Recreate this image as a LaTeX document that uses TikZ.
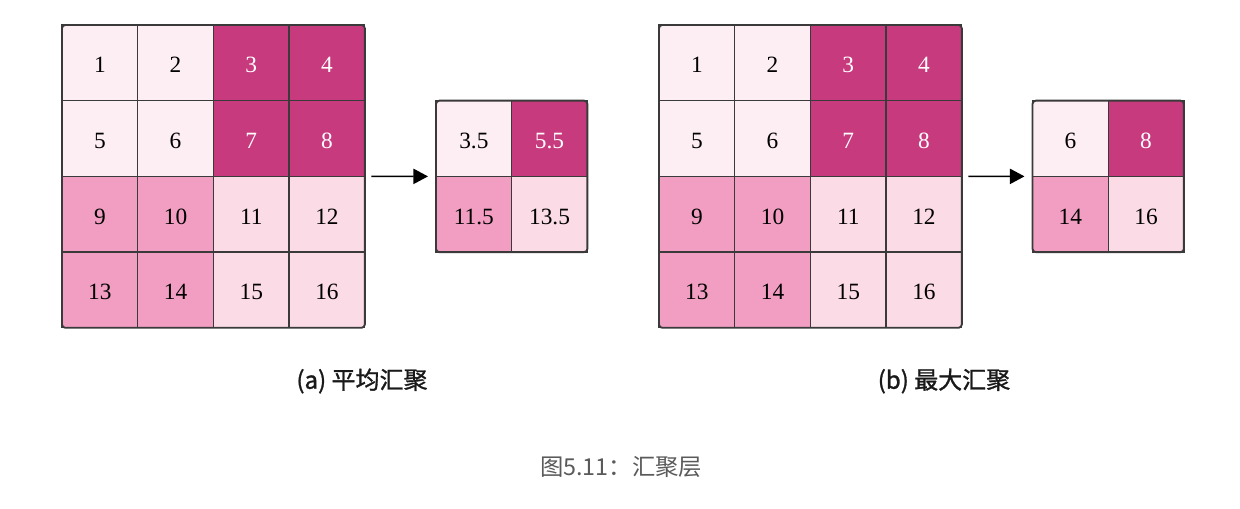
\documentclass[tikz,border=0pt]{standalone}
\usepackage{fontspec}
\newfontfamily\cjk{Noto Sans CJK SC}
\newfontfamily\cjkmed[FakeBold=1.2]{Noto Sans CJK SC}
\newfontfamily\numfont{Liberation Serif}
\usetikzlibrary{arrows.meta,positioning}
\definecolor{Grid}{HTML}{3A3A3A}
\definecolor{Pale}{HTML}{FDEEF3}
\definecolor{Soft}{HTML}{FADBE6}
\definecolor{Mid}{HTML}{F29EC3}
\definecolor{Deep}{HTML}{C83A7E}
\definecolor{Caption}{HTML}{5A5A5A}
\tikzset{
  cell/.style={draw=Grid,line width=1pt,outer sep=0pt,minimum width=56.8pt,minimum height=56.8pt,inner sep=0pt,text height=15pt,text depth=0pt,font=\numfont\fontsize{17.5}{20}\selectfont},
  palecell/.style={cell,fill=Pale},
  softcell/.style={cell,fill=Soft},
  midcell/.style={cell,fill=Mid},
  deepcell/.style={cell,fill=Deep,text=white},
  frame/.style={draw=Grid,line width=1.4pt,rounded corners=2.5pt},
  pool/.style={-{Triangle[length=11pt,width=11.5pt]},draw=black,line width=1.1pt,shorten <=5pt,shorten >=6pt},
  sub/.style={font=\cjkmed\fontsize{18}{22}\selectfont,text=black!90},
  figcaption/.style={font=\cjk\fontsize{17.5}{22}\selectfont,text=Caption}
}
\begin{document}
\begin{tikzpicture}[x=.75pt,y=-.75pt]
  \useasboundingbox (0,0) rectangle (1240,509);
  % (a) average pooling
  \foreach \n/\s [count=\i from 0] in {1/palecell,2/palecell,3/deepcell,4/deepcell,5/palecell,6/palecell,7/deepcell,8/deepcell,9/midcell,10/midcell,11/softcell,12/softcell,13/midcell,14/midcell,15/softcell,16/softcell}{
    \pgfmathtruncatemacro\col{mod(\i,4)}
    \pgfmathtruncatemacro\row{int(\i/4)}
    \node[\s] (a\n) at ({99.85+75.7*\col},{62.85+75.7*\row}) {\n};
  }
  \foreach \n/\s [count=\i from 0] in {3.5/palecell,5.5/deepcell,11.5/midcell,13.5/softcell}{
    \pgfmathtruncatemacro\col{mod(\i,2)}
    \pgfmathtruncatemacro\row{int(\i/2)}
    \node[\s] (p\i) at ({473.85+75.7*\col},{138.55+75.7*\row}) {\n};
  }
  \draw[frame] (a1.north west) rectangle (a16.south east);
  \draw[frame] (p0.north west) rectangle (p3.south east);
  \draw[pool] (a8.south east) -- (p2.north west);
  \node[sub] (la) at (362,381) {(a) 平均汇聚};
  % (b) max pooling
  \foreach \n/\s [count=\i from 0] in {1/palecell,2/palecell,3/deepcell,4/deepcell,5/palecell,6/palecell,7/deepcell,8/deepcell,9/midcell,10/midcell,11/softcell,12/softcell,13/midcell,14/midcell,15/softcell,16/softcell}{
    \pgfmathtruncatemacro\col{mod(\i,4)}
    \pgfmathtruncatemacro\row{int(\i/4)}
    \node[\s] (b\n) at ({696.85+75.7*\col},{62.85+75.7*\row}) {\n};
  }
  \foreach \n/\s [count=\i from 0] in {6/palecell,8/deepcell,14/midcell,16/softcell}{
    \pgfmathtruncatemacro\col{mod(\i,2)}
    \pgfmathtruncatemacro\row{int(\i/2)}
    \node[\s] (q\i) at ({1070.35+75.7*\col},{138.55+75.7*\row}) {\n};
  }
  \draw[frame] (b1.north west) rectangle (b16.south east);
  \draw[frame] (q0.north west) rectangle (q3.south east);
  \draw[pool] (b8.south east) -- (q2.north west);
  \node[sub] (lb) at (944,381) {(b) 最大汇聚};
  \node[figcaption] (caption) at (621,467) {图5.11：汇聚层};
\end{tikzpicture}
\end{document}
